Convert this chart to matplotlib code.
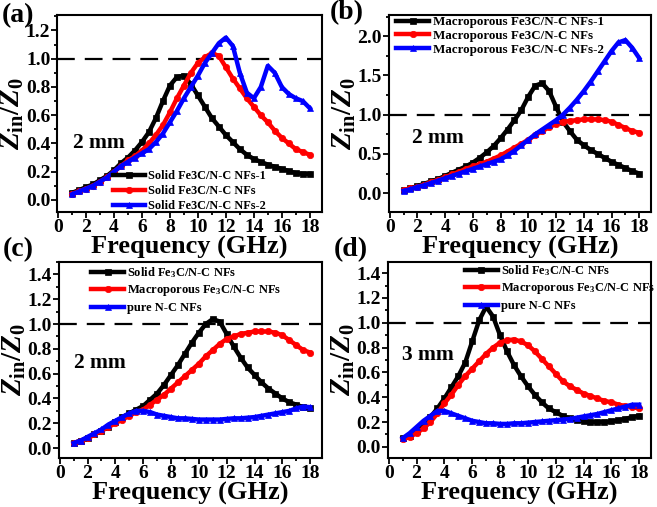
import numpy as np
import matplotlib
matplotlib.use("Agg")
import matplotlib.pyplot as plt
from matplotlib.ticker import MultipleLocator

plt.rcParams['font.family'] = ['Liberation Serif', 'DejaVu Serif']
plt.rcParams['font.weight'] = 'bold'
plt.rcParams['mathtext.fontset'] = 'custom'
plt.rcParams['mathtext.rm'] = 'Liberation Serif:weight=bold'
plt.rcParams['mathtext.it'] = 'Liberation Serif:style=italic:weight=bold'
plt.rcParams['mathtext.bf'] = 'Liberation Serif:weight=bold'

freq = [1.0, 1.5, 2.0, 2.5, 3.0, 3.5, 4.0, 4.5, 5.0, 5.5, 6.0, 6.5, 7.0, 7.5, 8.0, 8.5,
        9.0, 9.5, 10.0, 10.5, 11.0, 11.5, 12.0, 12.5, 13.0, 13.5, 14.0, 14.5, 15.0, 15.5,
        16.0, 16.5, 17.0, 17.5, 18.0]

# (a) solid, 2 mm
a_solid_1 = [0.05, 0.07, 0.09, 0.11, 0.14, 0.17, 0.21, 0.26, 0.30, 0.35, 0.41, 0.48, 0.58, 0.70,
             0.81, 0.87, 0.88, 0.82, 0.74, 0.66, 0.58, 0.52, 0.46, 0.41, 0.36, 0.32, 0.29, 0.27,
             0.25, 0.235, 0.22, 0.205, 0.19, 0.185, 0.185]
a_solid = [0.045, 0.06, 0.08, 0.10, 0.13, 0.16, 0.20, 0.24, 0.28, 0.31, 0.35, 0.40, 0.46, 0.53,
           0.62, 0.72, 0.81, 0.90, 0.97, 1.01, 1.04, 1.02, 0.94, 0.86, 0.79, 0.72, 0.66, 0.60,
           0.55, 0.49, 0.44, 0.40, 0.36, 0.34, 0.32]
a_solid_2 = [0.04, 0.06, 0.08, 0.10, 0.13, 0.16, 0.20, 0.24, 0.27, 0.30, 0.33, 0.36, 0.41, 0.47,
             0.55, 0.63, 0.72, 0.80, 0.88, 0.97, 1.04, 1.11, 1.15, 1.09, 0.90, 0.76, 0.72, 0.80,
             0.95, 0.90, 0.80, 0.75, 0.72, 0.70, 0.65]

# (b) macroporous, 2 mm
b_macro_1 = [0.04, 0.06, 0.09, 0.12, 0.15, 0.18, 0.22, 0.26, 0.30, 0.34, 0.39, 0.45, 0.52, 0.60,
             0.70, 0.81, 0.93, 1.06, 1.23, 1.37, 1.40, 1.30, 1.10, 0.91, 0.79, 0.68, 0.61, 0.55,
             0.50, 0.45, 0.40, 0.36, 0.32, 0.28, 0.25]
b_macro = [0.04, 0.06, 0.08, 0.11, 0.14, 0.17, 0.20, 0.24, 0.27, 0.31, 0.34, 0.37, 0.40, 0.44,
           0.48, 0.53, 0.58, 0.63, 0.68, 0.74, 0.79, 0.84, 0.88, 0.91, 0.92, 0.93, 0.94, 0.94,
           0.94, 0.93, 0.91, 0.87, 0.83, 0.79, 0.77]
b_macro_2 = [0.03, 0.05, 0.08, 0.10, 0.13, 0.16, 0.19, 0.22, 0.25, 0.28, 0.31, 0.34, 0.37, 0.40,
             0.43, 0.48, 0.54, 0.61, 0.68, 0.75, 0.81, 0.87, 0.93, 1.00, 1.09, 1.19, 1.30, 1.42,
             1.55, 1.68, 1.81, 1.92, 1.95, 1.85, 1.72]

# (c) comparison, 2 mm
c_solid = [0.04, 0.06, 0.08, 0.11, 0.14, 0.17, 0.21, 0.25, 0.28, 0.31, 0.34, 0.39, 0.44, 0.51,
           0.59, 0.67, 0.76, 0.85, 0.93, 1.00, 1.04, 1.02, 0.92, 0.82, 0.73, 0.65, 0.59, 0.53,
           0.48, 0.44, 0.40, 0.37, 0.35, 0.33, 0.32]
c_macro = [0.04, 0.06, 0.08, 0.11, 0.14, 0.17, 0.20, 0.23, 0.26, 0.29, 0.31, 0.35, 0.39, 0.43,
           0.48, 0.53, 0.58, 0.63, 0.68, 0.74, 0.79, 0.84, 0.88, 0.90, 0.92, 0.93, 0.94, 0.94,
           0.94, 0.93, 0.91, 0.87, 0.83, 0.79, 0.77]
c_pure = [0.04, 0.06, 0.09, 0.12, 0.15, 0.19, 0.22, 0.25, 0.28, 0.30, 0.30, 0.29, 0.27, 0.26,
          0.25, 0.24, 0.24, 0.235, 0.23, 0.23, 0.23, 0.23, 0.235, 0.24, 0.24, 0.245, 0.25, 0.26,
          0.27, 0.28, 0.29, 0.30, 0.32, 0.335, 0.33]

# (d) comparison, 3 mm
d_solid = [0.07, 0.09, 0.13, 0.18, 0.24, 0.31, 0.39, 0.48, 0.57, 0.68, 0.85, 1.02, 1.13, 1.05,
           0.90, 0.77, 0.66, 0.57, 0.49, 0.42, 0.36, 0.31, 0.28, 0.25, 0.23, 0.215, 0.205, 0.20,
           0.20, 0.20, 0.205, 0.215, 0.225, 0.24, 0.25]
d_macro = [0.06, 0.08, 0.11, 0.15, 0.20, 0.27, 0.35, 0.42, 0.50, 0.57, 0.63, 0.69, 0.75, 0.80,
           0.84, 0.86, 0.865, 0.85, 0.82, 0.77, 0.71, 0.65, 0.59, 0.53, 0.49, 0.46, 0.43, 0.41,
           0.39, 0.37, 0.36, 0.34, 0.33, 0.32, 0.31]
d_pure = [0.07, 0.11, 0.16, 0.21, 0.25, 0.29, 0.29, 0.27, 0.25, 0.23, 0.21, 0.20, 0.19, 0.19,
          0.185, 0.185, 0.19, 0.19, 0.195, 0.20, 0.205, 0.21, 0.215, 0.22, 0.225, 0.235, 0.245,
          0.255, 0.265, 0.28, 0.295, 0.31, 0.325, 0.34, 0.34]

labels_a = ["Solid Fe3C/N-C NFs-1", "Solid Fe3C/N-C NFs", "Solid Fe3C/N-C NFs-2"]
labels_b = ["Macroporous Fe3C/N-C NFs-1", "Macroporous Fe3C/N-C NFs", "Macroporous Fe3C/N-C NFs-2"]
labels_cd = ["Solid Fe$_3$C/N-C NFs", "Macroporous Fe$_3$C/N-C NFs", "pure N-C NFs"]

colors = ['#000000', '#ff0000', '#0000ff']
markers = ['s', 'o', '^']

fig = plt.figure(figsize=(6.57, 5.07), dpi=100)

panels = [
    dict(pos=[0.0872, 0.5819, 0.4024, 0.3886], data=[a_solid_1, a_solid, a_solid_2], labels=labels_a,
         ylim=(-0.085, 1.31), ymaj=0.2, ymin=0.1, tag='(a)', tagpos=(-0.21, 0.995), thick='2 mm',
         tpos=(1.1, 0.40), leg=dict(loc='lower left', bbox=(0.18, -0.045), size=8.8, ls=0.25)),
    dict(pos=[0.5921, 0.5819, 0.3988, 0.3886], data=[b_macro_1, b_macro, b_macro_2], labels=labels_b,
         ylim=(-0.24, 2.27), ymaj=0.5, ymin=0.25, tag='(b)', tagpos=(-0.225, 1.01), thick='2 mm',
         tpos=(1.6, 0.70), leg=dict(loc='upper left', bbox=(-0.01, 1.04), size=9.4, ls=0.12)),
    dict(pos=[0.0898, 0.0966, 0.4003, 0.3866], data=[c_solid, c_macro, c_pure], labels=labels_cd,
         ylim=(-0.08, 1.5), ymaj=0.2, ymin=0.1, tag='(c)', tagpos=(-0.215, 1.065), thick='2 mm',
         tpos=(1.0, 0.685), leg=dict(loc='upper left', bbox=(0.09, 1.03), size=9.0, ls=0.3)),
    dict(pos=[0.5906, 0.0966, 0.4003, 0.3866], data=[d_solid, d_macro, d_pure], labels=labels_cd,
         ylim=(-0.09, 1.49), ymaj=0.2, ymin=0.1, tag='(d)', tagpos=(-0.205, 1.065), thick='3 mm',
         tpos=(0.95, 0.74), leg=dict(loc='upper left', bbox=(0.26, 1.04), size=9.0, ls=0.3)),
]

for p in panels:
    ax = fig.add_axes(p['pos'])
    for vals, lab, c, m in zip(p['data'], p['labels'], colors, markers):
        ax.plot(freq, vals, color=c, marker=m, markersize=4.6, linewidth=3.2, label=lab,
                markeredgewidth=0.5)
    ax.axhline(1.0, color='black', linestyle=(0, (8, 4.5)), linewidth=1.6, zorder=0)
    ax.set_xlim(-0.05, 18.85)
    ax.set_ylim(*p['ylim'])
    ax.xaxis.set_major_locator(MultipleLocator(2))
    ax.xaxis.set_minor_locator(MultipleLocator(1))
    ax.yaxis.set_major_locator(MultipleLocator(p['ymaj']))
    ax.yaxis.set_minor_locator(MultipleLocator(p['ymin']))
    ax.yaxis.set_major_formatter(matplotlib.ticker.FormatStrFormatter('%.1f'))
    ax.tick_params(which='both', direction='out', top=False, right=False, labelsize=14, width=1.3,
                   pad=1.0)
    ax.tick_params(which='major', length=4)
    ax.tick_params(which='minor', length=2.5)
    for sp in ax.spines.values():
        sp.set_linewidth(1.5)
    for lab in ax.get_xticklabels() + ax.get_yticklabels():
        lab.set_fontweight('bold')
    ax.set_xlabel('Frequency (GHz)', fontsize=19, fontweight='bold', labelpad=0)
    ax.set_ylabel(r'$Z_{\rm in}/Z_{\rm 0}$', fontsize=21, labelpad=0)
    ax.text(p['tpos'][0], p['tpos'][1], p['thick'], fontsize=15.5, fontweight='bold', va='center', ha='left')
    ax.text(p['tagpos'][0], p['tagpos'][1], p['tag'], transform=ax.transAxes, fontsize=20,
            fontweight='bold', ha='left', va='center')
    ax.legend(loc=p['leg']['loc'], bbox_to_anchor=p['leg']['bbox'], frameon=False,
              prop=dict(family='Liberation Serif', weight='bold', size=p['leg']['size']),
              handlelength=2.6, handletextpad=0.25, labelspacing=p['leg']['ls'], borderpad=0.2,
              markerscale=1.0)

fig.savefig('out.png', dpi=100)
